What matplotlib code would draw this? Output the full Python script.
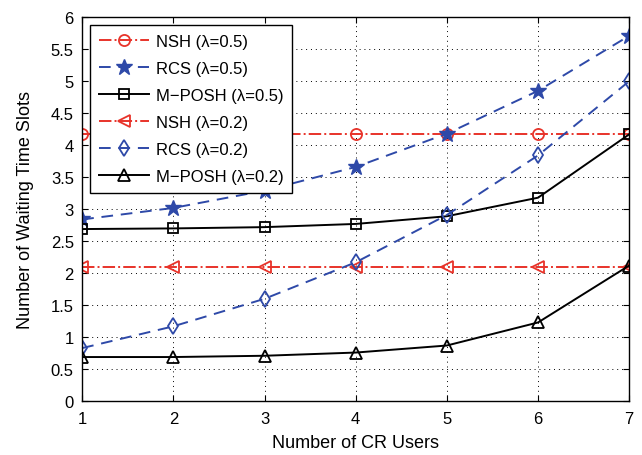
import numpy as np
import matplotlib.pyplot as plt

plt.rcParams['font.family'] = ['Liberation Sans', 'DejaVu Sans']

users = [1, 2, 3, 4, 5, 6, 7]
nsh_05 = [4.17, 4.17, 4.17, 4.17, 4.17, 4.17, 4.17]
rcs_05 = [2.84, 3.02, 3.29, 3.66, 4.18, 4.85, 5.71]
mposh_05 = [2.69, 2.70, 2.72, 2.77, 2.89, 3.18, 4.17]
nsh_02 = [2.1, 2.1, 2.1, 2.1, 2.1, 2.1, 2.1]
rcs_02 = [0.83, 1.17, 1.60, 2.17, 2.91, 3.84, 5.0]
mposh_02 = [0.69, 0.69, 0.71, 0.76, 0.87, 1.23, 2.12]

red = '#e8332a'
blue = '#2e49a8'

fig = plt.figure(figsize=(6.42, 4.56), dpi=100)
ax = fig.add_axes([0.128, 0.118, 0.852, 0.842])

ax.plot(users, nsh_05, color=red, ls='-.', lw=1.4, marker='o', ms=8, mfc='none', mew=1.3, label='NSH (λ=0.5)')
ax.plot(users, rcs_05, color=blue, ls='--', lw=1.4, dashes=(6, 4), marker='*', ms=12, mfc=blue, mew=1.0, label='RCS (λ=0.5)')
ax.plot(users, mposh_05, color='black', ls='-', lw=1.4, marker='s', ms=7, mfc='none', mew=1.3, label='M\u2212POSH (λ=0.5)')
ax.plot(users, nsh_02, color=red, ls='-.', lw=1.4, marker='<', ms=8, mfc='none', mew=1.3, label='NSH (λ=0.2)')
ax.plot(users, rcs_02, color=blue, ls='--', lw=1.4, dashes=(6, 4), marker='d', ms=8, mfc='none', mew=1.3, label='RCS (λ=0.2)')
ax.plot(users, mposh_02, color='black', ls='-', lw=1.4, marker='^', ms=8, mfc='none', mew=1.3, label='M\u2212POSH (λ=0.2)')

ax.set_xlim(1, 7)
ax.set_ylim(0, 6)
ax.set_xticks(users)
ax.set_yticks(np.arange(0, 6.01, 0.5))
ax.set_yticklabels(['0', '0.5', '1', '1.5', '2', '2.5', '3', '3.5', '4', '4.5', '5', '5.5', '6'])
ax.grid(True, ls=(0, (1, 4)), color='black', lw=0.7)
ax.tick_params(direction='in', labelsize=12, top=True, right=True, length=4)
ax.tick_params(axis='x', pad=7)
ax.tick_params(axis='y', pad=6)
for s in ax.spines.values():
    s.set_linewidth(1.0)

ax.set_xlabel('Number of CR Users', fontsize=13, labelpad=6)
ax.set_ylabel('Number of Waiting Time Slots', fontsize=13, labelpad=12)

leg = ax.legend(loc='upper left', fontsize=12, fancybox=False, framealpha=1,
                edgecolor='black', handlelength=3.0, borderaxespad=0.45,
                labelspacing=0.72, borderpad=0.55, handletextpad=0.4)
leg.get_frame().set_linewidth(1.0)

fig.savefig('out.png', dpi=100)
